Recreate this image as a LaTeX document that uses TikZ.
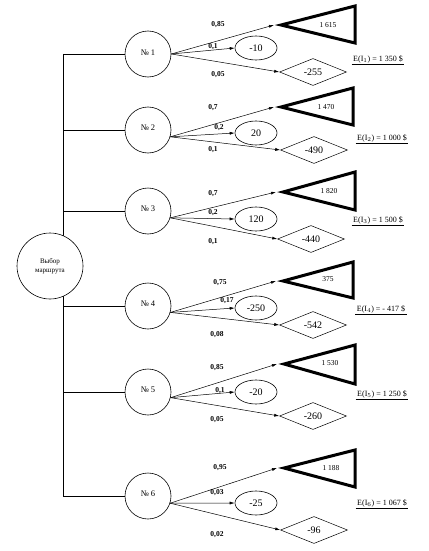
\documentclass[tikz,border=0pt]{standalone}
\usepackage{fontspec}
\setmainfont{Liberation Serif}
\usetikzlibrary{shapes.geometric,arrows.meta}
\begin{document}
\begin{tikzpicture}[x=1pt,y=-1pt,
  rootc/.style={circle, draw, line width=0.6pt, minimum size=66pt, inner sep=0pt, fill=white, align=center, font=\fontsize{7}{8.5}\selectfont},
  branch/.style={circle, draw, line width=0.6pt, minimum size=46pt, inner sep=0pt, fill=white, font=\fontsize{8.5}{10}\selectfont},
  outc/.style={ellipse, draw, line width=0.6pt, minimum width=42pt, minimum height=24pt, inner sep=0pt, font=\fontsize{10}{12}\selectfont},
  lossd/.style={diamond, draw, line width=0.5pt, aspect=2.5, minimum width=67pt, minimum height=27pt, inner sep=0pt, font=\fontsize{10}{12}\selectfont},
  tri/.style={draw, line width=3pt, line join=miter},
  tritext/.style={inner sep=0pt, font=\fontsize{7.5}{9}\selectfont},
  prob/.style={inner sep=0pt, font=\bfseries\fontsize{7.5}{9}\selectfont},
  evl/.style={inner sep=1.5pt, font=\fontsize{8}{10}\selectfont},
  arr/.style={-{Latex[length=5pt,width=3pt]}, line width=0.5pt},
  wire/.style={line width=0.6pt}]
\useasboundingbox (0,0) rectangle (428,551);

\coordinate (bus) at (63,0);

% branch circles
\node[branch] (n1) at (148,54) {\raisebox{2pt}{№ 1}};
\node[branch] (n2) at (148,130) {\raisebox{4pt}{№ 2}};
\node[branch] (n3) at (148,211) {\raisebox{4pt}{№ 3}};
\node[branch] (n4) at (148,306) {\raisebox{4pt}{№ 4}};
\node[branch] (n5) at (148,392) {\raisebox{4pt}{№ 5}};
\node[branch] (n6) at (148,496) {\raisebox{4pt}{№ 6}};

% bus lines
\draw[wire] (bus |- n1) -- (bus |- n6);
\foreach \k in {1,...,6} {\draw[wire] (bus |- n\k) -- (n\k.west);}

% root
\node[rootc] (root) at (50,266) {Выбор\\маршрута};

% ---------- row 1
\coordinate (c1) at (274,25);
\draw[tri] (281,25) -- (355,6) -- (355,43) -- cycle;
\node[tritext] (t1) at (328,25) {1 615};
\node[outc] (e1) at (256,48) {-10};
\node[lossd] (d1) at (313,72) {-255};
\draw[arr] (n1.east) -- (c1);
\draw[arr] (n1.east) -- (e1.west);
\draw[arr] (n1.east) -- (d1.west);
\node[prob] (p11) at (218,25) {0,85};
\node[prob] (p12) at (213,47) {0,1};
\node[prob] (p13) at (218,75) {0,05};
\node[evl] (v1) at (378,59) {E(I$_1$) = 1 350 \$};
\draw[wire] (v1.south west) -- (v1.south east);

% ---------- row 2
\coordinate (c2) at (274,107);
\draw[tri] (281,107) -- (353,88) -- (353,125) -- cycle;
\node[tritext] (t2) at (326,107) {1 470};
\node[outc] (e2) at (256,133) {20};
\node[lossd] (d2) at (314,150) {-490};
\draw[arr] (n2.-17) -- (c2);
\draw[arr] (n2.-17) -- (e2.west);
\draw[arr] (n2.-17) -- (d2.west);
\node[prob] (p21) at (213,108) {0,7};
\node[prob] (p22) at (219,128) {0,2};
\node[prob] (p23) at (213,150) {0,1};
\node[evl] (v2) at (382,138) {E(I$_2$) = 1 000 \$};
\draw[wire] (v2.south west) -- (v2.south east);

% ---------- row 3
\coordinate (c3) at (276,192);
\draw[tri] (283,192) -- (355,172) -- (355,210) -- cycle;
\node[tritext] (t3) at (329,191) {1 820};
\node[outc] (e3) at (256,219) {120};
\node[lossd] (d3) at (311,239) {-440};
\draw[arr] (n3.-17) -- (c3);
\draw[arr] (n3.-17) -- (e3.west);
\draw[arr] (n3.-17) -- (d3.west);
\node[prob] (p31) at (213,194) {0,7};
\node[prob] (p32) at (213,213) {0,2};
\node[prob] (p33) at (213,242) {0,1};
\node[evl] (v3) at (378,220) {E(I$_3$) = 1 500 \$};
\draw[wire] (v3.south west) -- (v3.south east);

% ---------- row 4
\coordinate (c4) at (276,281);
\draw[tri] (283,281) -- (353,262) -- (353,298) -- cycle;
\node[tritext] (t4) at (328,279) {375};
\node[outc] (e4) at (256,308) {-250};
\node[lossd] (d4) at (313,325) {-542};
\draw[arr] (n4.-16) -- (c4);
\draw[arr] (n4.-16) -- (e4.west);
\draw[arr] (n4.-16) -- (d4.west);
\node[prob] (p41) at (220,283) {0,75};
\node[prob] (p42) at (227,301) {0,17};
\node[prob] (p43) at (217,335) {0,08};
\node[evl] (v4) at (381,309) {E(I$_4$) = - 417 \$};
\draw[wire] (v4.south west) -- (v4.south east);

% ---------- row 5
\coordinate (c5) at (277,364);
\draw[tri] (284,364) -- (355,345) -- (355,384) -- cycle;
\node[tritext] (t5) at (330,363) {1 530};
\node[outc] (e5) at (256,392) {-20};
\node[lossd] (d5) at (313,416) {-260};
\draw[arr] (n5.-14) -- (c5);
\draw[arr] (n5.-14) -- (e5.west);
\draw[arr] (n5.-14) -- (d5.west);
\node[prob] (p51) at (217,368) {0,85};
\node[prob] (p52) at (220,391) {0,1};
\node[prob] (p53) at (217,420) {0,05};
\node[evl] (v5) at (382,394) {E(I$_5$) = 1 250 \$};
\draw[wire] (v5.south west) -- (v5.south east);

% ---------- row 6
\coordinate (c6) at (277,468);
\draw[tri] (284,468) -- (355,450) -- (355,487) -- cycle;
\node[tritext] (t6) at (331,468) {1 188};
\node[outc] (e6) at (256,503) {-25};
\node[lossd] (d6) at (314,530) {-96};
\draw[arr] (n6.-18) -- (c6);
\draw[arr] (n6.-18) -- (e6.west);
\draw[arr] (n6.-18) -- (d6.west);
\node[prob] (p61) at (220,468) {0,95};
\node[prob] (p62) at (217,493) {0,03};
\node[prob] (p63) at (217,535) {0,02};
\node[evl] (v6) at (382,503) {E(I$_6$) = 1 067 \$};
\draw[wire] (v6.south west) -- (v6.south east);
\end{tikzpicture}
\end{document}
